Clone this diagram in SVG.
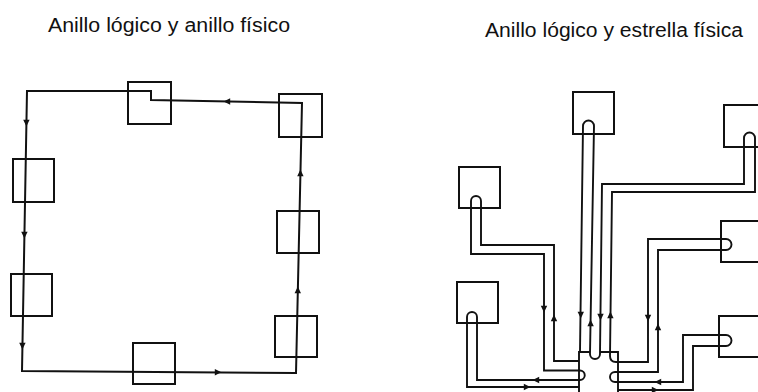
<svg xmlns="http://www.w3.org/2000/svg" width="758" height="392" viewBox="0 0 758 392">
<style>
.t{font-family:"Liberation Sans",Arial,sans-serif;font-size:20px;fill:#111}
.box{fill:none;stroke:#111;stroke-width:2}
.w{fill:none;stroke:#111;stroke-width:2;stroke-linejoin:miter}
.w2{fill:none;stroke:#111;stroke-width:1.9}
.ah{fill:#111}
</style>
<defs>
<path id="dn" d="M-3.2,-3.2 L3.2,-3.2 L0,3.4 Z"/>
</defs>
<rect width="758" height="392" fill="#fff"/>
<text class="t" x="48" y="31.5" textLength="242" lengthAdjust="spacingAndGlyphs">Anillo lógico y anillo físico</text>
<text class="t" x="485" y="37" textLength="258" lengthAdjust="spacingAndGlyphs">Anillo lógico y estrella física</text>

<g id="connectors">
<path class="w" d="M151,100 L151,91 L27,91 L22,371 L296,373 L302,103 Z"/>
<g class="ah">
<use href="#dn" transform="translate(26.4,123)"/>
<use href="#dn" transform="translate(24.4,235)"/>
<use href="#dn" transform="translate(22.4,346)"/>
<use href="#dn" transform="translate(218,372.3) rotate(-90)"/>
<use href="#dn" transform="translate(297.8,290) rotate(180)"/>
<use href="#dn" transform="translate(300.4,173) rotate(180)"/>
<use href="#dn" transform="translate(227,101.5) rotate(90)"/>
</g>
<path class="w2" d="M579,392 V352 H590 M600,352 H618 V392"/>
<path class="w2" d="M580,352 L583,126 A5.5,5.5 0 0 1 594,126 L590,354 A5,5 0 0 0 600,354 L602,184 L744,184 L744,138 A5.5,5.5 0 0 1 755,138 L755,192 L612,192 L610,356 Q610,362 616,362 L648,362 L648,239 L726,239 A5.5,5.5 0 0 1 726,250 L658,250 L658,372 L615,372 A5,5 0 0 0 615,382 L683,382 L683,335 L726,335 A5.5,5.5 0 0 1 726,346 L693,346 L693,390 L618,390"/>
<path class="w2" d="M579,361 L554,361 L554,245 L481,245 L481,201 A5,5 0 0 0 471,201 L471,254 L544,254 L544,370.5 L580,370.5 A4.75,4.75 0 0 1 580,380 L477,380 L477,317 A5,5 0 0 0 467,317 L467,387 L579,387"/>
<g class="ah">
<use href="#dn" transform="translate(544,309)"/>
<use href="#dn" transform="translate(554,318) rotate(180)"/>
<use href="#dn" transform="translate(580.8,315)"/>
<use href="#dn" transform="translate(590.6,323) rotate(180)"/>
<use href="#dn" transform="translate(600.5,317)"/>
<use href="#dn" transform="translate(610.4,315) rotate(180)"/>
<use href="#dn" transform="translate(648,318)"/>
<use href="#dn" transform="translate(658,327) rotate(180)"/>
<use href="#dn" transform="translate(536,380) rotate(90)"/>
<use href="#dn" transform="translate(527,387) rotate(-90)"/>
<use href="#dn" transform="translate(658,382) rotate(90)"/>
<use href="#dn" transform="translate(655,390) rotate(-90)"/>
</g>
</g>

<g id="l1"><rect class="box" x="128" y="82" width="43" height="42"/></g>
<g id="l2"><rect class="box" x="279" y="94" width="43" height="43"/></g>
<g id="l3"><rect class="box" x="13" y="159" width="41" height="43"/></g>
<g id="l4"><rect class="box" x="11" y="274" width="41" height="42"/></g>
<g id="l5"><rect class="box" x="133" y="343" width="42" height="41"/></g>
<g id="l6"><rect class="box" x="277" y="211" width="42" height="42"/></g>
<g id="l7"><rect class="box" x="275" y="316" width="42" height="41"/></g>

<g id="r1"><rect class="box" x="573" y="92" width="41" height="42"/></g>
<g id="r2"><rect class="box" x="724" y="105" width="50" height="42"/></g>
<g id="r3"><rect class="box" x="459" y="167" width="41" height="41"/></g>
<g id="r4"><rect class="box" x="457" y="282" width="41" height="41"/></g>
<g id="r5"><rect class="box" x="721" y="221" width="50" height="41"/></g>
<g id="r6"><rect class="box" x="719" y="316" width="50" height="41"/></g>
</svg>
